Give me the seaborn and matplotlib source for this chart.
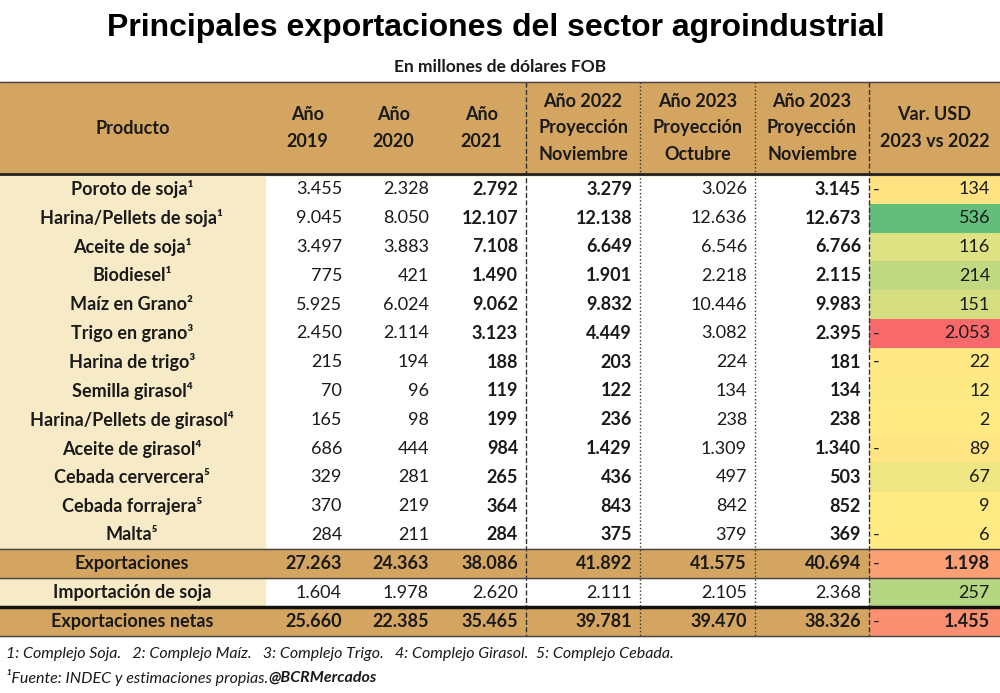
import matplotlib
matplotlib.use("Agg")
import matplotlib.pyplot as plt
import numpy as np
import seaborn as sns
from matplotlib.colors import LinearSegmentedColormap, TwoSlopeNorm
from matplotlib.patches import Rectangle

productos = ["Poroto de soja¹", "Harina/Pellets de soja¹", "Aceite de soja¹", "Biodiesel¹",
             "Maíz en Grano²", "Trigo en grano³", "Harina de trigo³", "Semilla girasol⁴",
             "Harina/Pellets de girasol⁴", "Aceite de girasol⁴", "Cebada cervercera⁵",
             "Cebada forrajera⁵", "Malta⁵", "Exportaciones", "Importación de soja",
             "Exportaciones netas"]
anio_2019 = ["3.455", "9.045", "3.497", "775", "5.925", "2.450", "215", "70", "165", "686", "329", "370", "284",
             "27.263", "1.604", "25.660"]
anio_2020 = ["2.328", "8.050", "3.883", "421", "6.024", "2.114", "194", "96", "98", "444", "281", "219", "211",
             "24.363", "1.978", "22.385"]
anio_2021 = ["2.792", "12.107", "7.108", "1.490", "9.062", "3.123", "188", "119", "199", "984", "265", "364", "284",
             "38.086", "2.620", "35.465"]
proy_2022_nov = ["3.279", "12.138", "6.649", "1.901", "9.832", "4.449", "203", "122", "236", "1.429", "436", "843",
                 "375", "41.892", "2.111", "39.781"]
proy_2023_oct = ["3.026", "12.636", "6.546", "2.218", "10.446", "3.082", "224", "134", "238", "1.309", "497", "842",
                 "379", "41.575", "2.105", "39.470"]
proy_2023_nov = ["3.145", "12.673", "6.766", "2.115", "9.983", "2.395", "181", "134", "238", "1.340", "503", "852",
                 "369", "40.694", "2.368", "38.326"]
var_usd = [-134, 536, 116, 214, 151, -2053, -22, 12, 2, -89, 67, 9, -6, -1198, 257, -1455]
headers = ["Producto", "Año\n2019", "Año\n2020", "Año\n2021", "Año 2022\nProyección\nNoviembre",
           "Año 2023\nProyección\nOctubre", "Año 2023\nProyección\nNoviembre", "Var. USD\n2023 vs 2022"]

TAN = "#d4a461"
CREAM = "#f7eac6"
TXT = "#1a1a1a"
FONT = ["Lato", "DejaVu Sans"]
FS = 13

fig = plt.figure(figsize=(10, 6.93), dpi=100)
ax = fig.add_axes([0, 0, 1, 1])
ax.set_xlim(0, 1000)
ax.set_ylim(693, 0)
ax.axis("off")
ax.set_zorder(2)
ax.patch.set_visible(False)

edges = [0, 265, 350, 437, 526, 640, 755, 869, 1000]
top_body, row_h = 175, 28.8
n = len(productos)
bottom = top_body + n * row_h

# colour scale column through seaborn
hax = fig.add_axes([edges[7] / 1000, 1 - bottom / 693, (edges[8] - edges[7]) / 1000, n * row_h / 693])
hax.set_zorder(1)
cmap = LinearSegmentedColormap.from_list("rg", ["#f8696b", "#ffeb84", "#63be7b"])
sns.heatmap(np.array(var_usd).reshape(-1, 1), ax=hax, cmap=cmap, cbar=False,
            norm=TwoSlopeNorm(vmin=-2053, vcenter=5, vmax=536), xticklabels=False, yticklabels=False)

# backgrounds
ax.add_patch(Rectangle((0, 82), 1000, top_body - 82, color=TAN, zorder=0))
ax.add_patch(Rectangle((0, top_body), 265, 13 * row_h, color=CREAM, zorder=0))
ax.add_patch(Rectangle((0, top_body + 14 * row_h), 265, row_h, color=CREAM, zorder=0))
for r in (13, 15):
    ax.add_patch(Rectangle((0, top_body + r * row_h), edges[7], row_h, color=TAN, zorder=0))

ax.text(496, 28, "Principales exportaciones del sector agroindustrial", ha="center", va="center",
        fontsize=23, fontweight="bold", family=["Liberation Sans Narrow", "Liberation Sans"], color="black")
ax.text(500, 67, "En millones de dólares FOB", ha="center", va="center", fontsize=12.5,
        fontweight="bold", family=FONT, color=TXT)

# headers
for i, h in enumerate(headers):
    cx = (edges[i] + edges[i + 1]) / 2
    ax.text(cx, 128, h, ha="center", va="center", fontsize=FS, fontweight="bold", family=FONT,
            color=TXT, linespacing=1.7)

# body
cols = [anio_2019, anio_2020, anio_2021, proy_2022_nov, proy_2023_oct, proy_2023_nov]
for r in range(n):
    cy = top_body + (r + 0.5) * row_h
    total = r in (13, 15)
    ax.text(132, cy, productos[r], ha="center", va="center", fontsize=FS, fontweight="bold",
            family=FONT, color=TXT)
    for c, col in enumerate(cols):
        bold = total or (r < 13 and c in (2, 3, 5))
        ax.text(edges[c + 2] - 8, cy, col[r], ha="right", va="center", fontsize=FS,
                fontweight="bold" if bold else "normal", family=FONT, color=TXT)
    v = var_usd[r]
    ax.text(edges[8] - 10, cy, f"{abs(v):,}".replace(",", "."), ha="right", va="center", fontsize=FS,
            fontweight="bold" if total else "normal", family=FONT, color=TXT)
    if v < 0:
        ax.text(edges[7] + 4, cy, "-", ha="left", va="center", fontsize=FS, family=FONT, color=TXT)

# lines
for x, ls in zip(edges[4:8], ["--", ":", ":", "--"]):
    ax.plot([x, x], [82, bottom], color="#333333", lw=1, ls=ls)
ax.plot([0, 1000], [82, 82], color="#444444", lw=1)
ax.plot([0, 1000], [top_body - 1, top_body - 1], color="#222222", lw=2)
ax.plot([0, 1000], [top_body + 13 * row_h] * 2, color="#444444", lw=1)
ax.plot([0, 1000], [top_body + 14 * row_h] * 2, color="#444444", lw=1)
ax.plot([0, 1000], [top_body + 15 * row_h] * 2, color="#111111", lw=2.5)
ax.plot([0, 1000], [bottom, bottom], color="#444444", lw=1)

ax.text(6, 654, "1: Complejo Soja.   2: Complejo Maíz.   3: Complejo Trigo.   4: Complejo Girasol.  5: Complejo Cebada.",
        ha="left", va="center", fontsize=11.5, style="italic", family=FONT, color=TXT)
ax.text(6, 678, "¹Fuente: INDEC y estimaciones propias.", ha="left", va="center", fontsize=11.5,
        style="italic", family=FONT, color=TXT)
ax.text(268, 678, "@BCRMercados", ha="left", va="center", fontsize=11.5, style="italic",
        fontweight="bold", family=FONT, color=TXT)

fig.savefig("out.png", dpi=100, facecolor="white")
